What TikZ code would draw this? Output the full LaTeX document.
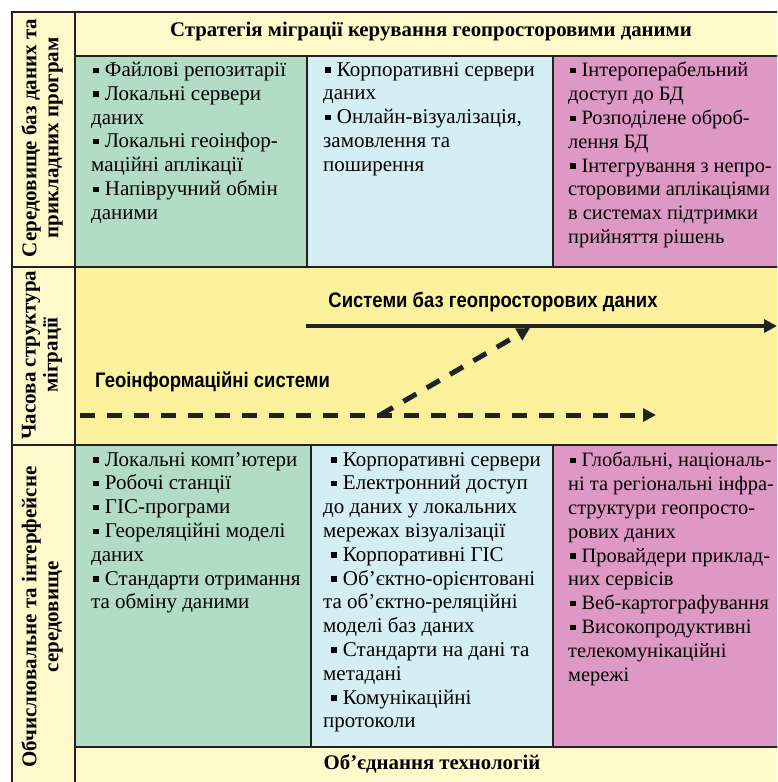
\documentclass[tikz,border=0pt]{standalone}
\usepackage{fontspec}
\setmainfont{Liberation Serif}
\newfontfamily\narrowsans[FakeStretch=0.88]{Liberation Sans}
\usetikzlibrary{arrows.meta,positioning}
\definecolor{paleyellow}{HTML}{FFF9CC}
\definecolor{bandyellow}{HTML}{FBF09C}
\definecolor{cellgreen}{HTML}{B2DDC4}
\definecolor{cellblue}{HTML}{D5EEF3}
\definecolor{cellpink}{HTML}{DD98C6}
\definecolor{ink}{HTML}{222222}
\newcommand{\bul}{\hspace*{2pt}\rule[0.17em]{0.26em}{0.26em}\hspace{0.3em}}
\newcommand{\bulin}{\hspace*{6pt}\bul}
\tikzstyle{cell}=[draw=ink,line width=1.6pt,anchor=north west,inner sep=0pt]
\tikzstyle{cell text}=[anchor=north west,align=left,inner sep=0pt,font=\fontsize{21}{23.8}\selectfont]
\tikzstyle{pink text}=[cell text,font=\fontsize{20.4}{23.8}\selectfont]
\tikzstyle{side label}=[rotate=90,align=center,inner sep=0pt,font=\bfseries\fontsize{21}{22}\selectfont]
\tikzstyle{head label}=[inner sep=0pt,font=\bfseries\fontsize{20.8}{22}\selectfont]
\tikzstyle{band label}=[inner sep=0pt,font=\narrowsans\bfseries\fontsize{21}{24}\selectfont]
\tikzstyle{flow}=[draw=ink,line width=4pt,-{Triangle[length=13pt,width=13pt]}]
\tikzstyle{old flow}=[flow,line width=5pt,dash pattern=on 15pt off 12pt]

\begin{document}
\begin{tikzpicture}[x=1pt,y=-1pt]
        \useasboundingbox (0,0) rectangle (777,782);
        \clip (0,0) rectangle (777,782);
        % left column
        \node[cell,fill=paleyellow,minimum width=63pt,minimum height=255pt] (side1) at (11,11) {};
        \node[cell,fill=paleyellow,minimum width=63pt,minimum height=178pt] (side2) at (11,266) {};
        \node[cell,fill=paleyellow,minimum width=63pt,minimum height=340pt] (side3) at (11,444) {};
        % header and footer
        \node[cell,fill=paleyellow,minimum width=708pt,minimum height=44pt] (strategy) at (74,11) {};
        \node[cell,fill=paleyellow,minimum width=708pt,minimum height=40pt] (union) at (74,746) {};
        % top row
        \node[cell,fill=cellgreen,minimum width=232pt,minimum height=211pt] (tg) at (74,55) {};
        \node[cell,fill=cellblue,minimum width=246pt,minimum height=211pt] (tb) at (306,55) {};
        \node[cell,fill=cellpink,minimum width=230pt,minimum height=211pt] (tp) at (552,55) {};
        % time band
        \node[cell,fill=bandyellow,minimum width=708pt,minimum height=178pt] (band) at (74,266) {};
        % bottom row
        \node[cell,fill=cellgreen,minimum width=236pt,minimum height=302pt] (bg) at (74,444) {};
        \node[cell,fill=cellblue,minimum width=242pt,minimum height=302pt] (bb) at (310,444) {};
        \node[cell,fill=cellpink,minimum width=230pt,minimum height=302pt] (bp) at (552,444) {};

        \node[side label] (side1 text) at (42,138) {Середовище баз даних та\\прикладних програм};
        \node[side label] (side2 text) at (42,355) {Часова структура\\міграції};
        \node[side label] (side3 text) at (42,617) {Обчислювальне та інтерфейсне\\середовище};
        \node[head label] (strategy text) at (431,32) {Стратегія міграції керування геопросторовими даними};
        \node[head label] (union text) at (432,764) {Об’єднання технологій};

        \node[cell text] (tg text) at ([xshift=17pt,yshift=-7pt]tg.north west) {\bul Файлові репозитарії\\\bul Локальні сервери\\даних\\\bul Локальні геоінфор-\\маційні аплікації\\\bul Напівручний обмін\\даними};
        \node[cell text] (tb text) at ([xshift=17pt,yshift=-7pt]tb.north west) {\bul Корпоративні сервери\\даних\\\bul Онлайн-візуалізація,\\замовлення та\\поширення};
        \node[pink text] (tp text) at ([xshift=16pt,yshift=-7pt]tp.north west) {\bul Інтероперабельний\\доступ до БД\\\bul Розподілене оброб-\\лення БД\\\bul Інтегрування з непро-\\сторовими аплікаціями\\в системах підтримки\\прийняття рішень};
        \node[cell text] (bg text) at ([xshift=17pt,yshift=-8pt]bg.north west) {\bul Локальні комп’ютери\\\bul Робочі станції\\\bul ГІС-програми\\\bul Геореляційні моделі\\даних\\\bul Стандарти отримання\\та обміну даними};
        \node[cell text] (bb text) at ([xshift=13pt,yshift=-8pt]bb.north west) {\bulin Корпоративні сервери\\\bulin Електронний доступ\\до даних у локальних\\мережах візуалізації\\\bulin Корпоративні ГІС\\\bulin Об’єктно-орієнтовані\\та об’єктно-реляційні\\моделі баз даних\\\bulin Стандарти на дані та\\метадані\\\bulin Комунікаційні\\протоколи};
        \node[pink text] (bp text) at ([xshift=16pt,yshift=-8pt]bp.north west) {\bul Глобальні, національ-\\ні та регіональні інфра-\\структури геопросто-\\рових даних\\\bul Провайдери приклад-\\них сервісів\\\bul Веб-картографування\\\bul Високопродуктивні\\телекомунікаційні\\мережі};

        % migration over time
        \node[band label] (sbd) at (493,302) {Системи баз геопросторових даних};
        \node[band label,anchor=west] (gis) at (95,382) {Геоінформаційні системи};
        \coordinate (sbd start) at (306,326);
        \coordinate (sbd end) at (777,326);
        \coordinate (gis start) at (80,415);
        \coordinate (gis end) at (656,415);
        \coordinate (fork) at (380,415);
        \coordinate (merge) at (530,328);
        \draw[flow] (sbd start) -- (sbd end);
        \draw[old flow] (gis start) -- (gis end);
        \draw[old flow] (fork) -- (merge);
\end{tikzpicture}
\end{document}
